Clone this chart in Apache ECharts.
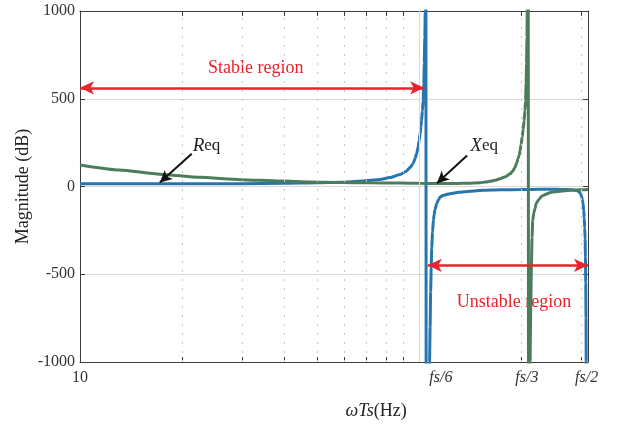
<!DOCTYPE html>
<html><head><meta charset="utf-8">
<script src="https://cdn.jsdelivr.net/npm/echarts@6/dist/echarts.min.js"></script>
<style>html,body{margin:0;padding:0;background:#fff}#c{width:617px;height:428px}</style>
</head><body><div id="c"></div>
<script>
// ---- axis ranges / ticks ----
const xMin = 10, xMax = 315;
const yMin = -1000, yMax = 1000, yStep = 500;
const xTickMarks = [20, 30, 40, 50, 60, 70, 80, 90, 100, 200, 300];
const xMinorGrid = [20, 30, 40, 50, 60, 70, 80, 90, 200, 300];
const xMajorGrid = [100];
const xTickLabelValues = [10, 116, 208, 312];
const xTickLabelTexts = ['10', 'fs/6', 'fs/3', 'fs/2'];

// ---- Req (blue) ----
const reqFreq = [10, 20, 30, 40, 50, 58.5, 68, 76.7, 82, 87.9, 91.5, 94.1, 96, 97.3, 98.4, 99.3, 100.1, 100.7, 101.3, 101.7, 102.3, 102.8, 103.3, 103.6, 104.0, 104.3, 104.6,
  105.1, 107.4, 107.8, 108.2, 108.6, 109, 109.6, 110.2, 110.8, 111.5, 112.8, 114, 115.3, 117, 119, 123.4, 131, 141.3, 155, 173.3, 200, 227.5, 255, 270, 278.9,
  286, 292.5, 296, 298.5, 300.5, 302, 303.5, 304.7, 306, 307, 308, 308.9, 309.6, 310.2, 310.8, 311.2, 311.8];
const reqMag = [15, 15, 16, 18, 21, 24, 31, 40, 51, 68, 86, 108, 130, 159, 188, 222, 262, 300, 340, 375, 430, 490, 580, 700, 850, 1000, 3000,
  -3000, -1000, -800, -600, -460, -350, -260, -193, -160, -130, -97, -77, -61, -53, -48, -41, -33, -27, -22, -19, -17, -16, -16, -17, -18,
  -20, -24, -29, -38, -47, -60, -78, -100, -135, -180, -235, -300, -400, -550, -750, -1000, -3000];

// ---- Xeq (green) ----
const xeqFreq = [10, 13.1, 17.2, 22.6, 29.7, 38.9, 48, 58.5, 72, 87.9, 100, 115, 130, 140, 151.4, 157, 162, 168, 173.3, 180, 185.5, 189, 191.9, 194, 195.9, 197.4, 198.6,
  200, 201.4, 202.8, 204.1, 205.2, 206.2, 206.9, 207.5, 208.1, 208.5, 209.6, 210.6, 212.5, 213.5, 214.5, 215.4, 216.4, 218, 219.9, 221.3, 223.5, 226, 230.2, 234, 238.4, 244, 252, 261, 279, 300, 315];
const xeqMag = [123, 94, 70, 52, 39, 31, 26, 23, 21, 19.5, 18, 17, 17.5, 19, 22, 25, 30, 36, 44, 56, 72, 88, 110, 132, 159, 180, 205,
  240, 280, 325, 375, 430, 490, 590, 700, 850, 1000, 3000, -3000, -1000, -700, -450, -290, -193, -150, -125, -100, -85, -72, -55, -48, -42, -34, -30, -27, -22, -19, -17];

// ---- annotations (data coordinates) ----
const stableArrow = [[10, 562], [103.5, 562]];
const unstableArrow = [[106.1, -449], [315, -449]];
const reqArrow = [[21.36, 187], [17.2, 23]];
const xeqArrow = [[138.6, 176], [112.9, 19]];
const stableText = { text: 'Stable region', at: [33.0, 676] };
const unstableText = { text: 'Unstable region', at: [190.6, -659] };
const reqText = { at: [21.5, 233] };
const xeqText = { at: [141.7, 233] };
const xTitleAt = 74.7;

const BLUE = '#2775ae', GREEN = '#4b7c5c', RED = '#e8232b', AX = '#3c3c3c';
const FONT = '"Liberation Serif", "Times New Roman", serif';

const zip = (a, b) => a.map((v, i) => [v, b[i]]);

const chart = echarts.init(document.getElementById('c'));
const xAxisBase = {
  type: 'log', logBase: 10, min: xMin, max: xMax, gridIndex: 0,
  axisLine: { show: true, onZero: false, lineStyle: { color: AX, width: 1 } },
  axisTick: { show: true, inside: true, length: 5, customValues: xTickMarks, lineStyle: { color: AX } },
  axisLabel: { show: false },
  splitLine: { show: false }, minorTick: { show: false }
};
const yAxisBase = {
  type: 'value', min: yMin, max: yMax, interval: yStep,
  axisLine: { show: true, onZero: false, lineStyle: { color: AX, width: 1 } },
  axisTick: { show: true, inside: true, length: 5, lineStyle: { color: AX } }
};
chart.setOption({
  animation: false,
  backgroundColor: '#fff',
  grid: { left: 80, right: 29, top: 11, bottom: 66, containLabel: false },
  xAxis: [
    Object.assign({}, xAxisBase, { position: 'bottom' }),
    Object.assign({}, xAxisBase, { position: 'top' })
  ],
  yAxis: [
    Object.assign({}, yAxisBase, {
      position: 'left',
      axisLabel: { show: true, color: '#333', fontFamily: FONT, fontSize: 16, margin: 5, formatter: v => String(v) },
      splitLine: { show: true, lineStyle: { color: '#d9d9d9', width: 1 } },
      name: 'Magnitude (dB)', nameLocation: 'middle', nameGap: 48, nameMoveOverlap: false,
      nameTextStyle: { color: '#222', fontFamily: FONT, fontSize: 18 }
    }),
    Object.assign({}, yAxisBase, { position: 'right', axisLabel: { show: false }, splitLine: { show: false } })
  ],
  series: [
    {
      type: 'line', name: 'grid', data: [], z: 1, silent: true,
      markLine: {
        silent: true, symbol: ['none', 'none'], label: { show: false }, animation: false,
        data: xMinorGrid.map(v => ({ xAxis: v, lineStyle: { color: '#c4c4c4', width: 1, type: [2, 7] } }))
          .concat(xMajorGrid.map(v => ({ xAxis: v, lineStyle: { color: '#d9d9d9', width: 1, type: 'solid' } })))
      }
    },
    {
      type: 'line', name: 'Req', data: zip(reqFreq, reqMag), showSymbol: false, z: 3, clip: true,
      smooth: 0.2, smoothMonotone: 'x',
      lineStyle: { color: BLUE, width: 3 }, itemStyle: { color: BLUE }
    },
    {
      type: 'line', name: 'Xeq', data: zip(xeqFreq, xeqMag), showSymbol: false, z: 4, clip: true,
      smooth: 0.2, smoothMonotone: 'x',
      lineStyle: { color: GREEN, width: 3 }, itemStyle: { color: GREEN }
    },
    {
      type: 'line', name: 'annot', data: [], z: 5, silent: true,
      markLine: {
        silent: true, label: { show: false }, animation: false,
        data: [
          [{ coord: stableArrow[0], symbol: 'arrow', symbolSize: [10, 14], lineStyle: { color: RED, width: 2.5, type: 'solid' } },
           { coord: stableArrow[1], symbol: 'arrow', symbolSize: [10, 14] }],
          [{ coord: unstableArrow[0], symbol: 'arrow', symbolSize: [10, 14], lineStyle: { color: RED, width: 2.5, type: 'solid' } },
           { coord: unstableArrow[1], symbol: 'arrow', symbolSize: [10, 14] }],
          [{ coord: reqArrow[0], symbol: 'none', lineStyle: { color: '#111', width: 2, type: 'solid' } },
           { coord: reqArrow[1], symbol: 'arrow', symbolSize: [9, 12] }],
          [{ coord: xeqArrow[0], symbol: 'none', lineStyle: { color: '#111', width: 2, type: 'solid' } },
           { coord: xeqArrow[1], symbol: 'arrow', symbolSize: [9, 12] }]
        ]
      }
    }
  ]
});

const px = (p) => chart.convertToPixel({ xAxisIndex: 0, yAxisIndex: 0 }, p);
const bottomY = px([xMin, yMin])[1];
const g = [];
xTickLabelValues.forEach((v, i) => {
  const p = px([v, yMin]);
  const it = i > 0;
  g.push({ type: 'text', x: p[0], y: bottomY + 16, silent: true, style: {
    text: xTickLabelTexts[i], align: 'center', verticalAlign: 'middle', fill: '#333',
    font: (it ? 'italic ' : '') + '16px ' + FONT } });
});
const tx = px([xTitleAt, yMin]);
g.push({ type: 'text', x: tx[0], y: bottomY + 49, silent: true, style: {
  text: '{i|ωTs}{n|(Hz)}', align: 'center', verticalAlign: 'middle', fill: '#222',
  rich: { i: { fontStyle: 'italic', fontSize: 18, fontFamily: FONT, fill: '#222' }, n: { fontSize: 18, fontFamily: FONT, fill: '#222' } } } });
[stableText, unstableText].forEach(t => {
  const p = px(t.at);
  g.push({ type: 'text', x: p[0], y: p[1], silent: true, style: {
    text: t.text, align: 'center', verticalAlign: 'middle', fill: RED, font: '18px ' + FONT } });
});
[[reqText, 'R'], [xeqText, 'X']].forEach(([t, c]) => {
  const p = px(t.at);
  g.push({ type: 'text', x: p[0], y: p[1], silent: true, style: {
    text: '{i|' + c + '}{n|eq}', align: 'left', verticalAlign: 'middle', fill: '#222',
    rich: { i: { fontStyle: 'italic', fontSize: 19, fontFamily: FONT, fill: '#222' }, n: { fontSize: 17, fontFamily: FONT, fill: '#222' } } } });
});
chart.setOption({ graphic: g });
</script></body></html>
